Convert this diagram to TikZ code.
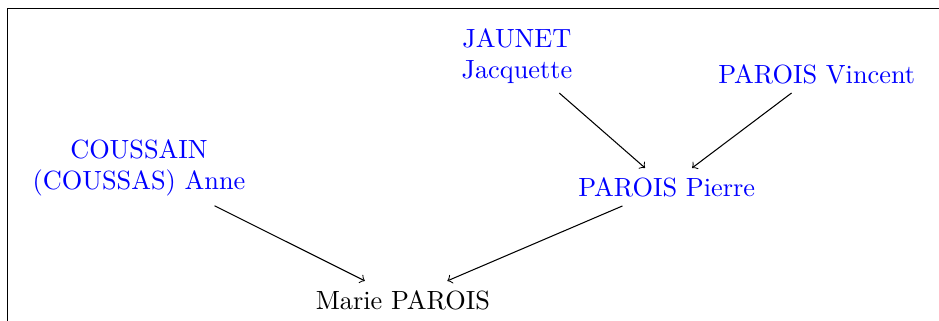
\documentclass[tikz,border=0pt]{standalone}
\begin{document}
\begin{tikzpicture}
\tikzset{person/.style={text width=3cm,align=center,blue}}
\useasboundingbox (0,0) rectangle (12.54cm,-4.286cm);
\draw (0.1cm,-5cm) -- (0.1cm,-0.113cm) -- (13.5cm,-0.113cm);

\node (marie) at (5.38cm,-4.005cm) {Marie PAROIS};
\node[person] (anne) at (1.856cm,-2.243cm) {COUSSAIN (COUSSAS) Anne};
\node[person] (pierre) at (8.905cm,-2.497cm) {PAROIS Pierre};
\node[person] (jacquette) at (6.903cm,-0.748cm) {JAUNET Jacquette};
\node[person] (vincent) at (10.908cm,-0.988cm) {PAROIS Vincent};

\draw[->] (anne) -- (marie);
\draw[->] (pierre) -- (marie);
\draw[->] (jacquette) -- (pierre);
\draw[->] (vincent) -- (pierre);
\end{tikzpicture}
\end{document}
